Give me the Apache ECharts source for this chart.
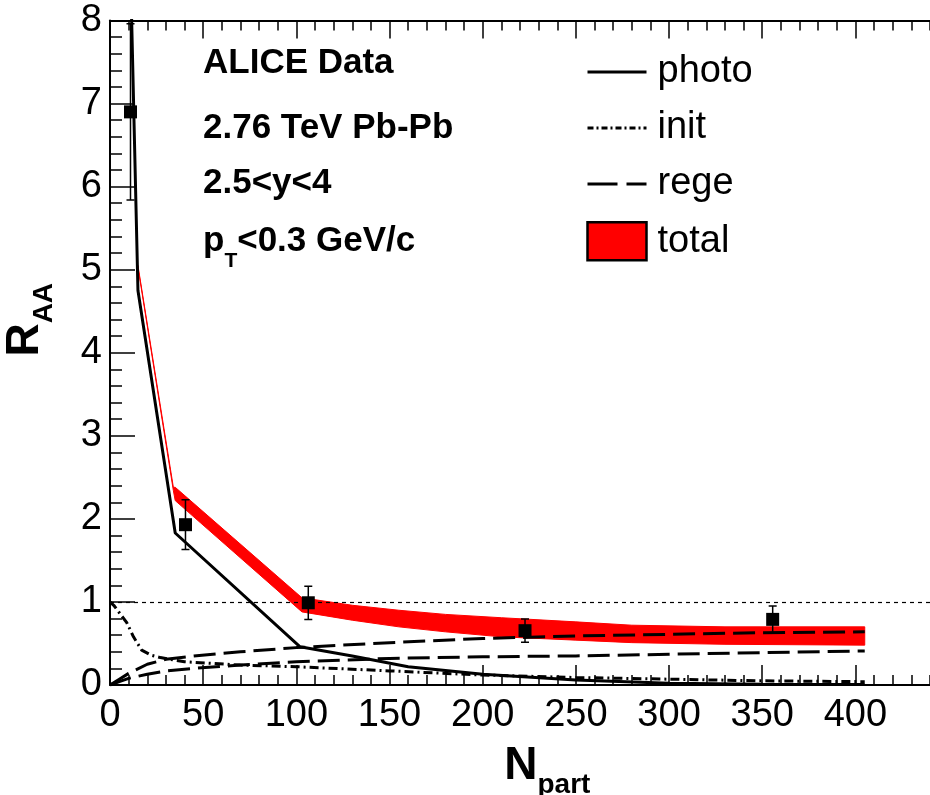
<!DOCTYPE html>
<html><head><meta charset="utf-8">
<script src="https://cdn.jsdelivr.net/npm/echarts@6/dist/echarts.min.js"></script>
<style>html,body{margin:0;padding:0;background:#fff}#c{width:930px;height:795px}</style>
</head><body><div id="c"></div>
<script>
// ---- data ----
const xTicks = [0, 50, 100, 150, 200, 250, 300, 350, 400];
const yTicks = [0, 1, 2, 3, 4, 5, 6, 7, 8];

const photoN = [8, 11, 15, 35, 102, 130, 160, 200, 250, 300, 350, 405];
const photoR = [11.5, 8.6, 4.75, 1.83, 0.46, 0.35, 0.22, 0.13, 0.06, 0.02, 0.01, 0.005];

const initN = [0, 2, 5, 9, 12.6, 17, 22, 27, 40, 70, 100, 150, 200, 250, 300, 350, 405];
const initR = [1.0, 0.96, 0.87, 0.75, 0.58, 0.42, 0.36, 0.33, 0.28, 0.24, 0.22, 0.17, 0.12, 0.09, 0.07, 0.05, 0.04];

const regeN = [0, 5, 10, 20, 30, 45, 70, 100, 150, 200, 250, 300, 350, 405];
const regeUpR = [0, 0.07, 0.14, 0.25, 0.31, 0.35, 0.40, 0.45, 0.51, 0.56, 0.59, 0.61, 0.63, 0.64];
const regeLoR = [0, 0.04, 0.08, 0.13, 0.17, 0.20, 0.24, 0.28, 0.32, 0.34, 0.35, 0.37, 0.39, 0.41];

const totalN = [15, 34, 35, 103, 130, 155, 180, 210, 250, 280, 330, 405];
const totalUp = [5.05, 2.38, 2.38, 1.05, 0.96, 0.90, 0.85, 0.81, 0.76, 0.72, 0.70, 0.70];
const totalLo = [5.03, 2.34, 2.22, 0.88, 0.78, 0.70, 0.64, 0.58, 0.54, 0.51, 0.49, 0.48];

const dataN = [11, 40.5, 106.4, 222.7, 355.6];
const dataR = [6.9, 1.93, 0.99, 0.654, 0.79];
const dataErr = [1.06, 0.30, 0.20, 0.14, 0.16];

const legendNames = ['photo', 'init', 'rege', 'total'];
const infoLines = ['ALICE Data', '2.76 TeV Pb-Pb', '2.5<y<4'];

// ---- build ----
const zip = (a, b) => a.map((v, i) => [v, b[i]]);
const FONT = 'Liberation Sans, Arial, Helvetica, sans-serif';

const chart = echarts.init(document.getElementById('c'));

const tickCommon = {
  axisLine: { show: true, lineStyle: { color: '#000', width: 2 } },
  splitLine: { show: false },
};
const noSym = { opacity: 0 };
const infoTops = [46, 111, 166, 224];

const option = {
  backgroundColor: '#fff',
  animation: false,
  grid: { left: 110, top: 20.5, width: 838.6, height: 664.5, containLabel: false, outerBoundsMode: 'none' },
  legend: {
    orient: 'vertical', left: 581, top: 48, itemWidth: 59, itemHeight: 38, itemGap: 18,
    textStyle: { fontSize: 38, fontFamily: FONT, color: '#000', padding: [0, 0, 0, 6] },
    data: [
      { name: legendNames[0], itemStyle: noSym, lineStyle: { color: '#000', width: 3, type: 'solid', opacity: 1 } },
      { name: legendNames[1], itemStyle: noSym, lineStyle: { color: '#000', width: 3, type: [6, 3, 2, 3], opacity: 1 } },
      { name: legendNames[2], itemStyle: noSym, lineStyle: { color: '#000', width: 3, type: [30, 9], opacity: 1 } },
      { name: legendNames[3], icon: 'rect', itemStyle: { color: '#ff0000', borderColor: '#000', borderWidth: 2.5, opacity: 1 } }
    ]
  },
  xAxis: [{
    type: 'value', min: 0, max: 450, interval: 50, position: 'bottom',
    ...tickCommon,
    axisTick: { show: true, inside: true, length: 20, lineStyle: { color: '#000', width: 1.5 } },
    minorTick: { show: true, splitNumber: 5, length: 10, lineStyle: { color: '#000', width: 1.5 } },
    axisLabel: { fontSize: 38, fontFamily: FONT, color: '#000', margin: 12,
      formatter: v => (xTicks.indexOf(v) >= 0 ? String(v) : '') },
    name: '{b|N}{s|part}', nameLocation: 'middle', nameGap: 58,
    nameTextStyle: {
      padding: [0, 0, 0, 36],
      rich: {
        b: { fontSize: 46, fontWeight: 'bold', fontFamily: FONT, color: '#000', lineHeight: 56, verticalAlign: 'top' },
        s: { fontSize: 28, fontWeight: 'bold', fontFamily: FONT, color: '#000', lineHeight: 56, verticalAlign: 'bottom' }
      }
    }
  }, {
    type: 'value', min: 0, max: 450, interval: 50, position: 'top',
    ...tickCommon,
    axisTick: { show: true, inside: true, length: 18, lineStyle: { color: '#000', width: 1.5 } },
    minorTick: { show: true, splitNumber: 5, length: 10, lineStyle: { color: '#000', width: 1.5 } },
    axisLabel: { show: false }
  }],
  yAxis: [{
    type: 'value', min: 0, max: 8, interval: 1,
    ...tickCommon,
    axisTick: { show: true, inside: true, length: 25, lineStyle: { color: '#000', width: 1.5 } },
    minorTick: { show: true, splitNumber: 5, length: 12, lineStyle: { color: '#000', width: 1.5 } },
    axisLabel: { fontSize: 38, fontFamily: FONT, color: '#000', margin: 8,
      formatter: v => (yTicks.indexOf(v) >= 0 ? String(v) : '') },
    name: '{b|R}{s|AA}', nameLocation: 'middle', nameGap: 52, nameRotate: 90,
    nameTextStyle: {
      padding: [0, 0, 0, 66],
      rich: {
        b: { fontSize: 46, fontWeight: 'bold', fontFamily: FONT, color: '#000', lineHeight: 56, verticalAlign: 'top' },
        s: { fontSize: 28, fontWeight: 'bold', fontFamily: FONT, color: '#000', lineHeight: 56, verticalAlign: 'bottom' }
      }
    }
  }],
  graphic: [
    ...infoLines.map((t, i) => ({
      type: 'text', left: 203, top: infoTops[i],
      style: { text: t, font: 'bold 35px ' + FONT, fill: '#000' }
    })),
    {
      type: 'text', left: 203, top: infoTops[3],
      style: {
        text: '{b|p}{s|T}{b|<0.3 GeV/c}',
        rich: {
          b: { font: 'bold 35px ' + FONT, fill: '#000', lineHeight: 48, verticalAlign: 'top' },
          s: { font: 'bold 21px ' + FONT, fill: '#000', lineHeight: 48, verticalAlign: 'bottom' }
        }
      }
    }
  ],
  series: [
    {
      name: 'total', type: 'custom', z: 1, clip: true,
      itemStyle: { color: '#ff0000' },
      data: [0],
      renderItem: (params, api) => {
        const pts = totalN.map((n, i) => api.coord([n, totalUp[i]]))
          .concat(totalN.map((n, i) => api.coord([n, totalLo[i]])).reverse());
        return { type: 'polygon', shape: { points: pts }, style: { fill: '#ff0000', stroke: '#ff0000', lineWidth: 1 } };
      }
    },
    {
      name: 'photo', type: 'line', z: 3, symbol: 'none', clip: true, color: '#000',
      lineStyle: { color: '#000', width: 3 },
      data: zip(photoN, photoR),
      markLine: {
        silent: true, symbol: 'none', label: { show: false },
        lineStyle: { color: '#000', width: 1.2, type: [4, 4] },
        data: [{ yAxis: 1 }]
      }
    },
    {
      name: 'init', type: 'line', z: 3, symbol: 'none', clip: true, color: '#000',
      lineStyle: { color: '#000', width: 3, type: [9, 4, 2, 4] },
      data: zip(initN, initR)
    },
    {
      name: 'rege', type: 'line', z: 3, symbol: 'none', clip: true, color: '#000',
      lineStyle: { color: '#000', width: 3, type: [22, 8] },
      data: zip(regeN, regeUpR)
    },
    {
      name: 'rege', type: 'line', z: 3, symbol: 'none', clip: true, color: '#000',
      lineStyle: { color: '#000', width: 3, type: [22, 8] },
      data: zip(regeN, regeLoR)
    },
    {
      name: 'ALICE errors', type: 'custom', z: 4, clip: true,
      data: dataN.map((n, i) => [n, dataR[i] - dataErr[i], dataR[i] + dataErr[i]]),
      renderItem: (params, api) => {
        const lo = api.coord([api.value(0), api.value(1)]);
        const hi = api.coord([api.value(0), api.value(2)]);
        const st = { stroke: '#000', lineWidth: 1.5 };
        return {
          type: 'group', children: [
            { type: 'line', shape: { x1: lo[0], y1: lo[1], x2: hi[0], y2: hi[1] }, style: st },
            { type: 'line', shape: { x1: lo[0] - 4, y1: lo[1], x2: lo[0] + 4, y2: lo[1] }, style: st },
            { type: 'line', shape: { x1: hi[0] - 4, y1: hi[1], x2: hi[0] + 4, y2: hi[1] }, style: st }
          ]
        };
      }
    },
    {
      name: 'ALICE Data', type: 'scatter', z: 5, symbol: 'rect', symbolSize: 13,
      itemStyle: { color: '#000', opacity: 1 },
      data: zip(dataN, dataR)
    }
  ]
};
chart.setOption(option);
</script></body></html>
